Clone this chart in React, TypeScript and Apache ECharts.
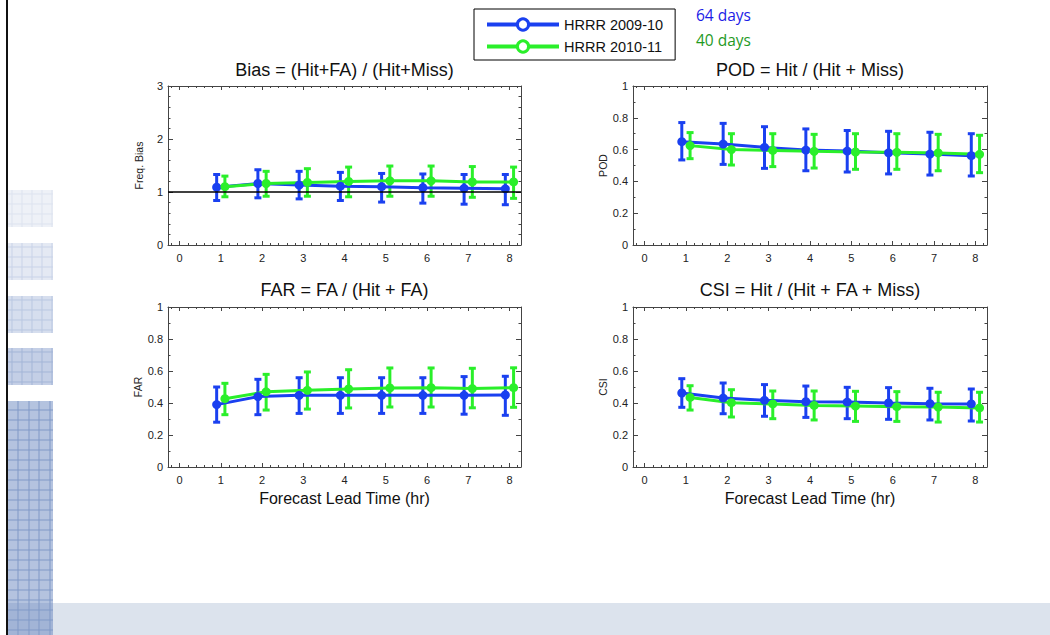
import React, { useEffect, useRef } from "react";
import * as echarts from "echarts";

const leadTimes = [1, 2, 3, 4, 5, 6, 7, 8];
const seriesNames = ["HRRR 2009-10", "HRRR 2010-11"];
const dayLabels = ["64 days", "40 days"];

const panelTitles = [
  "Bias = (Hit+FA) / (Hit+Miss)",
  "POD = Hit / (Hit + Miss)",
  "FAR = FA / (Hit + FA)",
  "CSI = Hit / (Hit + FA + Miss)",
];
const yNames = ["Freq. Bias", "POD", "FAR", "CSI"];
const xName = "Forecast Lead Time (hr)";

// Bias
const biasBlue = [1.09, 1.16, 1.13, 1.11, 1.1, 1.08, 1.07, 1.06];
const biasBlueLo = [0.84, 0.89, 0.87, 0.84, 0.81, 0.79, 0.77, 0.76];
const biasBlueHi = [1.33, 1.42, 1.39, 1.37, 1.35, 1.34, 1.33, 1.33];
const biasGreen = [1.1, 1.16, 1.18, 1.2, 1.21, 1.21, 1.19, 1.19];
const biasGreenLo = [0.91, 0.92, 0.92, 0.91, 0.92, 0.92, 0.9, 0.88];
const biasGreenHi = [1.3, 1.39, 1.44, 1.47, 1.49, 1.49, 1.48, 1.47];

// POD
const podBlue = [0.65, 0.635, 0.614, 0.597, 0.591, 0.58, 0.572, 0.562];
const podBlueLo = [0.535, 0.507, 0.482, 0.467, 0.459, 0.447, 0.44, 0.434];
const podBlueHi = [0.77, 0.765, 0.744, 0.73, 0.72, 0.715, 0.709, 0.7];
const podGreen = [0.625, 0.6, 0.595, 0.589, 0.585, 0.583, 0.579, 0.57];
const podGreenLo = [0.543, 0.503, 0.493, 0.484, 0.476, 0.476, 0.467, 0.455];
const podGreenHi = [0.707, 0.7, 0.7, 0.696, 0.7, 0.7, 0.696, 0.69];

// FAR
const farBlue = [0.39, 0.44, 0.448, 0.448, 0.448, 0.448, 0.448, 0.45];
const farBlueLo = [0.28, 0.327, 0.335, 0.335, 0.335, 0.335, 0.33, 0.323];
const farBlueHi = [0.5, 0.548, 0.558, 0.558, 0.558, 0.558, 0.565, 0.567];
const farGreen = [0.427, 0.47, 0.479, 0.488, 0.494, 0.496, 0.49, 0.496];
const farGreenLo = [0.327, 0.356, 0.362, 0.369, 0.375, 0.375, 0.37, 0.373];
const farGreenHi = [0.523, 0.579, 0.594, 0.608, 0.619, 0.619, 0.617, 0.62];

// CSI
const csiBlue = [0.4625, 0.431, 0.417, 0.408, 0.406, 0.4, 0.396, 0.394];
const csiBlueLo = [0.373, 0.333, 0.317, 0.31, 0.302, 0.298, 0.294, 0.2875];
const csiBlueHi = [0.552, 0.525, 0.515, 0.506, 0.498, 0.496, 0.492, 0.4875];
const csiGreen = [0.435, 0.402, 0.394, 0.385, 0.381, 0.377, 0.375, 0.369];
const csiGreenLo = [0.356, 0.3125, 0.302, 0.294, 0.285, 0.285, 0.281, 0.281];
const csiGreenHi = [0.508, 0.483, 0.475, 0.475, 0.473, 0.471, 0.467, 0.467];

const BLUE = "#1a40f0";
const GREEN = "#2aef2a";
const FONT = "'Liberation Sans', Arial, Helvetica, sans-serif";

const panels = [
  { blue: [biasBlue, biasBlueLo, biasBlueHi], green: [biasGreen, biasGreenLo, biasGreenHi], yMax: 3, yInt: 1, yMinor: 5 },
  { blue: [podBlue, podBlueLo, podBlueHi], green: [podGreen, podGreenLo, podGreenHi], yMax: 1, yInt: 0.2, yMinor: 2 },
  { blue: [farBlue, farBlueLo, farBlueHi], green: [farGreen, farGreenLo, farGreenHi], yMax: 1, yInt: 0.2, yMinor: 2 },
  { blue: [csiBlue, csiBlueLo, csiBlueHi], green: [csiGreen, csiGreenLo, csiGreenHi], yMax: 1, yInt: 0.2, yMinor: 2 },
];

const grids = [
  { left: 168, top: 86, width: 353, height: 159 },
  { left: 633, top: 86, width: 354, height: 159 },
  { left: 168, top: 307, width: 353, height: 160 },
  { left: 633, top: 307, width: 354, height: 160 },
];

function errRender(color: string) {
  return (params: any, api: any) => {
    const x = api.value(0);
    const lo = api.value(1);
    const hi = api.value(2);
    const t = api.coord([x, hi]);
    const b = api.coord([x, lo]);
    const w = 3.5;
    const style = { stroke: color, lineWidth: 3 };
    return {
      type: "group",
      children: [
        { type: "line", shape: { x1: t[0], y1: t[1], x2: b[0], y2: b[1] }, style },
        { type: "line", shape: { x1: t[0] - w, y1: t[1], x2: t[0] + w, y2: t[1] }, style },
        { type: "line", shape: { x1: b[0] - w, y1: b[1], x2: b[0] + w, y2: b[1] }, style },
      ],
    };
  };
}

function buildOption() {
  const xAxis: any[] = [];
  const yAxis: any[] = [];
  const series: any[] = [];
  const title: any[] = [];
  const axisLine = { show: true, onZero: false, lineStyle: { color: "#444", width: 1 } };
  const tickStyle = { color: "#444", width: 1 };

  panels.forEach((p, i) => {
    const g = grids[i];
    const common = {
      type: "value",
      gridIndex: i,
      min: -0.28,
      max: 8.28,
      splitNumber: 8,
      splitLine: { show: false },
      axisLine,
      axisTick: { show: true, inside: true, length: 4, lineStyle: tickStyle },
      minorTick: { show: true, splitNumber: 5, length: 2, lineStyle: tickStyle },
    };
    xAxis.push({
      ...common,
      position: "bottom",
      name: i >= 2 ? xName : "",
      nameLocation: "middle",
      nameGap: 23,
      nameTextStyle: { fontSize: 16, color: "#111", fontFamily: FONT },
      axisLabel: {
        showMinLabel: false,
        showMaxLabel: false,
        fontSize: 11,
        color: "#222",
        margin: 7,
        fontFamily: FONT,
        formatter: (v: number) => (Math.abs(v - Math.round(v)) < 1e-6 ? String(Math.round(v)) : ""),
      },
    });
    xAxis.push({ ...common, position: "top", axisLabel: { show: false } });
    const yCommon = {
      type: "value",
      gridIndex: i,
      min: 0,
      max: p.yMax,
      interval: p.yInt,
      splitLine: { show: false },
      axisLine,
      axisTick: { show: true, inside: true, length: 5, lineStyle: tickStyle },
      minorTick: { show: true, splitNumber: p.yMinor, length: 2.5, lineStyle: tickStyle },
    };
    yAxis.push({
      ...yCommon,
      position: "left",
      name: yNames[i],
      nameLocation: "middle",
      nameGap: 24,
      nameTextStyle: { fontSize: 10.5, color: "#222", fontFamily: FONT },
      axisLabel: { fontSize: 11, color: "#222", margin: 5, fontFamily: FONT },
    });
    yAxis.push({ ...yCommon, position: "right", axisLabel: { show: false } });

    title.push({
      text: panelTitles[i],
      left: g.left + g.width / 2,
      top: i < 2 ? 61 : 281,
      textAlign: "center",
      padding: 0,
      textStyle: { fontSize: 18, fontWeight: "normal", color: "#111", fontFamily: FONT },
    });

    const xi = 2 * i;
    const yi = 2 * i;
    if (i === 0) {
      series.push({
        type: "line",
        name: "ref",
        xAxisIndex: xi,
        yAxisIndex: yi,
        data: [],
        z: 1,
        silent: true,
        markLine: {
          silent: true,
          symbol: ["none", "none"],
          label: { show: false },
          lineStyle: { color: "#000", width: 1.5, type: "solid" },
          data: [{ yAxis: 1 }],
        },
      });
    }
    const sets = [
      { vals: p.blue, color: BLUE, off: -0.1, name: seriesNames[0] },
      { vals: p.green, color: GREEN, off: 0.1, name: seriesNames[1] },
    ];
    sets.forEach((s) => {
      series.push({
        type: "custom",
        name: s.name + " err",
        xAxisIndex: xi,
        yAxisIndex: yi,
        renderItem: errRender(s.color),
        encode: { x: 0, y: [1, 2] },
        data: leadTimes.map((t, k) => [t + s.off, s.vals[1][k], s.vals[2][k]]),
        z: 2,
      });
      series.push({
        type: "line",
        name: s.name,
        xAxisIndex: xi,
        yAxisIndex: yi,
        data: leadTimes.map((t, k) => [t + s.off, s.vals[0][k]]),
        symbol: "circle",
        symbolSize: 9,
        lineStyle: { color: s.color, width: 3 },
        itemStyle: { color: s.color },
        z: 3,
      });
    });
  });

  const graphic: any[] = [];
  // slide decorations
  graphic.push({ type: "rect", shape: { x: 53, y: 603, width: 997, height: 32 }, style: { fill: "#dce3ed" }, z: -10 });
  const squares = [
    { y: 190, fill: "#eef1f7", line: "#dde3ef" },
    { y: 243, fill: "#e4e9f3", line: "#c9d3e8" },
    { y: 296, fill: "#d6deee", line: "#b9c7e1" },
    { y: 348, fill: "#c4cfe6", line: "#a3b5d7" },
  ];
  squares.forEach((s) => {
    graphic.push({ type: "rect", shape: { x: 8, y: s.y, width: 45, height: 37 }, style: { fill: s.fill }, z: -10 });
    for (let k = 0; k < 5; k++) {
      graphic.push({ type: "line", shape: { x1: 8 + 4 + k * 10, y1: s.y, x2: 8 + 4 + k * 10, y2: s.y + 37 }, style: { stroke: s.line, lineWidth: 1 }, z: -9 });
    }
    for (let k = 0; k < 4; k++) {
      graphic.push({ type: "line", shape: { x1: 8, y1: s.y + 4 + k * 10, x2: 53, y2: s.y + 4 + k * 10 }, style: { stroke: s.line, lineWidth: 1 }, z: -9 });
    }
  });
  graphic.push({ type: "rect", shape: { x: 8, y: 401, width: 45, height: 202 }, style: { fill: "#b4c3df" }, z: -10 });
  graphic.push({ type: "rect", shape: { x: 8, y: 603, width: 45, height: 32 }, style: { fill: "#a2b4d6" }, z: -10 });
  [18, 29, 39, 50].forEach((x) => {
    graphic.push({ type: "line", shape: { x1: x, y1: 401, x2: x, y2: 635 }, style: { stroke: "#8099c7", lineWidth: 1 }, z: -9 });
  });
  for (let y = 410; y < 635; y += 10) {
    graphic.push({ type: "line", shape: { x1: 8, y1: y, x2: 53, y2: y }, style: { stroke: "#8099c7", lineWidth: 1 }, z: -9 });
  }
  graphic.push({ type: "line", shape: { x1: 7, y1: 0, x2: 7, y2: 635 }, style: { stroke: "#111", lineWidth: 2 }, z: -8 });
  // day counts
  graphic.push({
    type: "text",
    left: 696,
    top: 7,
    style: { text: dayLabels[0], fill: "#1c1ce6", fontSize: 15.5, fontFamily: "'Open Sans', 'Noto Sans', sans-serif" },
  });
  graphic.push({
    type: "text",
    left: 696,
    top: 32,
    style: { text: dayLabels[1], fill: "#1f9a1f", fontSize: 15.5, fontFamily: "'Open Sans', 'Noto Sans', sans-serif" },
  });

  return {
    animation: false,
    backgroundColor: "#fff",
    title,
    grid: grids.map((g) => ({ ...g, containLabel: false })),
    xAxis,
    yAxis,
    series,
    graphic,
    legend: {
      left: 474,
      top: 9,
      orient: "vertical",
      itemWidth: 72,
      itemHeight: 14,
      itemGap: 7,
      padding: [8, 12, 6, 11],
      borderColor: "#000",
      borderWidth: 1,
      backgroundColor: "#fff",
      textStyle: { fontSize: 14.5, color: "#111", fontFamily: FONT },
      data: [
        { name: seriesNames[0], itemStyle: { color: "#fff", borderColor: BLUE, borderWidth: 3 }, lineStyle: { color: BLUE, width: 4 } },
        { name: seriesNames[1], itemStyle: { color: "#fff", borderColor: GREEN, borderWidth: 3 }, lineStyle: { color: GREEN, width: 4 } },
      ],
    },
  };
}

export default function App() {
  const ref = useRef<HTMLDivElement>(null);
  useEffect(() => {
    if (!ref.current) return;
    const chart = echarts.init(ref.current, null, { renderer: "svg" });
    chart.setOption(buildOption() as any);
    return () => chart.dispose();
  }, []);
  return <div ref={ref} style={{ position: "absolute", left: 0, top: 0, width: 1050, height: 635 }} />;
}
